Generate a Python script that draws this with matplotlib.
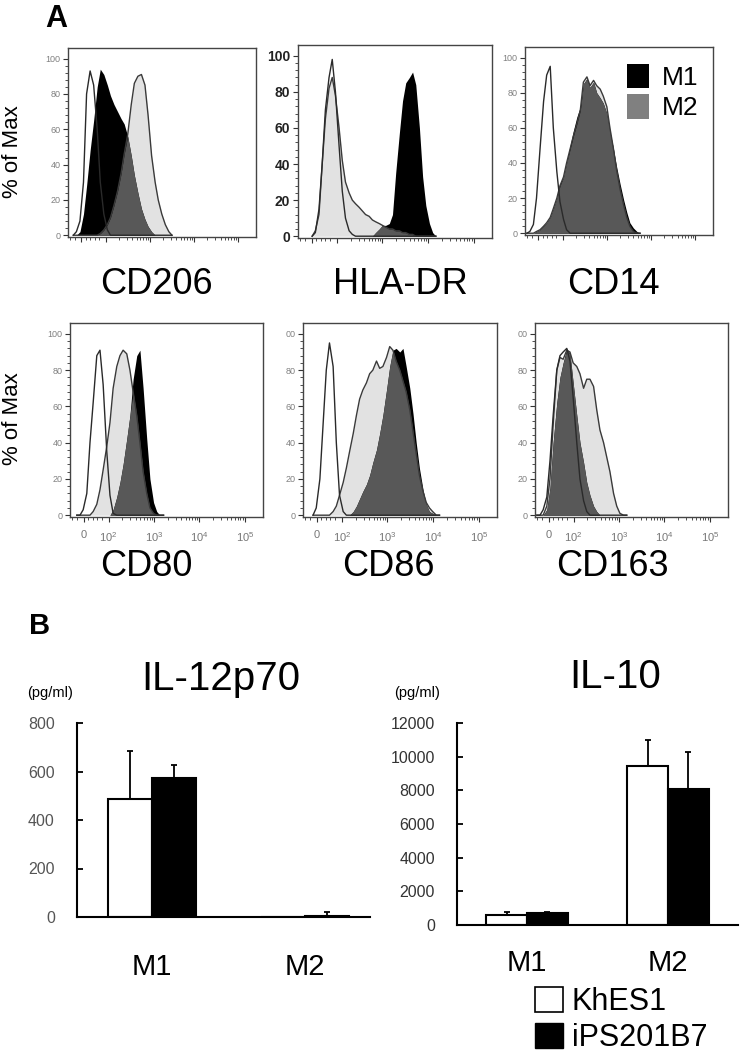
import numpy as np
import matplotlib
matplotlib.use('Agg')
import matplotlib.pyplot as plt
from matplotlib.patches import Patch

plt.rcParams['font.family'] = ['Liberation Sans', 'DejaVu Sans']
plt.rcParams['mathtext.default'] = 'regular'

W, H = 747, 1056

#===========================================
# flow histograms: x in log10 display units, y in % of max
#===========================================
cd206_x = [1.27, 1.34, 1.42, 1.50, 1.57, 1.65, 1.73, 1.81, 1.88, 1.96, 2.04, 2.11, 2.19, 2.27, 2.35,
           2.42, 2.50, 2.58, 2.65, 2.73, 2.81, 2.89, 2.96, 3.04, 3.12, 3.19, 3.27, 3.35, 3.43, 3.50]
cd206_iso = [0, 2, 8, 30, 80, 93, 85, 60, 30, 12, 3, 0, 0, 0, 0,
             0, 0, 0, 0, 0, 0, 0, 0, 0, 0, 0, 0, 0, 0, 0]
cd206_m1 = [0, 0, 2, 12, 28, 48, 65, 84, 94, 91, 85, 79, 74, 70, 66,
            63, 56, 45, 34, 24, 15, 9, 5, 2, 0, 0, 0, 0, 0, 0]
cd206_m2 = [0, 0, 0, 0, 0, 0, 0, 0, 1, 3, 6, 10, 17, 25, 35,
            46, 57, 74, 86, 90, 91, 85, 68, 45, 30, 20, 12, 6, 2, 0]

hladr_x = [1.46, 1.53, 1.61, 1.68, 1.75, 1.83, 1.90, 1.97, 2.05, 2.12, 2.19, 2.27, 2.34, 2.41, 2.49,
           2.56, 2.63, 2.71, 2.78, 2.85, 2.93, 3.00, 3.07, 3.15, 3.22, 3.29, 3.37, 3.44, 3.51, 3.59,
           3.66, 3.73, 3.81, 3.88, 3.95, 4.03, 4.10, 4.17]
hladr_iso = [0, 2, 15, 40, 70, 88, 98, 80, 50, 25, 10, 3, 1, 0, 0,
             0, 0, 0, 0, 0, 0, 0, 0, 0, 0, 0, 0, 0, 0, 0,
             0, 0, 0, 0, 0, 0, 0, 0]
hladr_m1 = [0, 0, 0, 0, 0, 0, 0, 0, 0, 0, 0, 0, 0, 0, 0,
            0, 0, 0, 0, 2, 4, 6, 6, 7, 12, 35, 57, 75, 85, 88,
            91, 84, 60, 33, 17, 7, 2, 0]
hladr_m2 = [0, 3, 12, 40, 65, 82, 88, 78, 60, 42, 30, 24, 20, 18, 16,
            14, 12, 11, 9, 8, 7, 6, 5, 4, 4, 3, 3, 2, 2, 1,
            1, 0, 0, 0, 0, 0, 0, 0]

cd14_x = [1.19, 1.26, 1.34, 1.41, 1.49, 1.57, 1.64, 1.72, 1.79, 1.87, 1.94, 2.02, 2.09, 2.17, 2.24,
          2.32, 2.40, 2.47, 2.55, 2.62, 2.70, 2.77, 2.85, 2.92, 3.00, 3.07, 3.15, 3.22, 3.30, 3.38,
          3.45, 3.52, 3.60, 3.68, 3.75]
cd14_iso = [0, 1, 5, 20, 48, 75, 90, 95, 60, 35, 18, 8, 2, 0, 0,
            0, 0, 0, 0, 0, 0, 0, 0, 0, 0, 0, 0, 0, 0, 0,
            0, 0, 0, 0, 0]
cd14_m1 = [0, 0, 0, 1, 2, 4, 6, 9, 14, 20, 28, 32, 40, 50, 58,
           66, 72, 85, 88, 83, 86, 80, 77, 74, 68, 58, 48, 38, 28, 19,
           12, 6, 3, 1, 0]
cd14_m2 = [0, 0, 0, 1, 2, 4, 6, 9, 14, 20, 27, 32, 40, 48, 55,
           62, 70, 86, 89, 84, 87, 84, 82, 78, 72, 60, 48, 36, 25, 16,
           9, 4, 1, 0, 0]

cd80_x = [1.30, 1.37, 1.44, 1.52, 1.59, 1.66, 1.74, 1.81, 1.88, 1.96, 2.03, 2.10, 2.18, 2.25, 2.32,
          2.40, 2.47, 2.54, 2.62, 2.69, 2.76, 2.84, 2.91, 2.99, 3.06, 3.13, 3.21]
cd80_iso = [0, 0, 3, 12, 40, 62, 88, 91, 72, 35, 11, 1, 0, 0, 0,
            0, 0, 0, 0, 0, 0, 0, 0, 0, 0, 0, 0]
cd80_m1 = [0, 0, 0, 0, 0, 0, 0, 0, 0, 0, 0, 3, 10, 18, 28,
           42, 55, 75, 88, 91, 70, 42, 20, 7, 2, 0, 0]
cd80_m2 = [0, 0, 0, 0, 0, 2, 6, 14, 25, 38, 51, 70, 82, 88, 91,
           89, 80, 68, 55, 40, 24, 12, 4, 1, 0, 0, 0]

cd86_x = [1.37, 1.44, 1.52, 1.59, 1.66, 1.73, 1.81, 1.88, 1.95, 2.03, 2.10, 2.17, 2.25, 2.32, 2.39,
          2.46, 2.54, 2.61, 2.68, 2.76, 2.83, 2.90, 2.98, 3.05, 3.12, 3.19, 3.27, 3.34, 3.41, 3.49,
          3.56, 3.63, 3.70, 3.78, 3.85, 3.92, 3.99, 4.07, 4.14]
cd86_iso = [0, 4, 20, 50, 80, 95, 82, 40, 11, 2, 0, 0, 0, 0, 0,
            0, 0, 0, 0, 0, 0, 0, 0, 0, 0, 0, 0, 0, 0, 0,
            0, 0, 0, 0, 0, 0, 0, 0, 0]
cd86_m1 = [0, 0, 0, 0, 0, 0, 0, 0, 0, 0, 0, 0, 2, 5, 9,
           13, 17, 22, 29, 36, 45, 55, 69, 82, 91, 92, 90, 92, 82, 70,
           56, 40, 26, 14, 6, 2, 1, 0, 0]
cd86_m2 = [0, 0, 0, 0, 0, 0, 2, 5, 11, 18, 26, 35, 45, 55, 64,
           69, 73, 78, 80, 85, 81, 82, 87, 93, 91, 85, 80, 74, 68, 58,
           46, 34, 22, 13, 7, 4, 2, 0, 0]

cd163_x = [1.19, 1.26, 1.33, 1.41, 1.48, 1.55, 1.63, 1.70, 1.77, 1.85, 1.92, 1.99, 2.07, 2.14, 2.22,
           2.29, 2.36, 2.44, 2.51, 2.58, 2.66, 2.73, 2.80, 2.88, 2.95, 3.02, 3.10, 3.17]
cd163_iso = [0, 0, 3, 10, 30, 55, 80, 88, 90, 92, 85, 65, 40, 20, 8,
             2, 0, 0, 0, 0, 0, 0, 0, 0, 0, 0, 0, 0]
cd163_m1 = [0, 0, 0, 3, 15, 40, 62, 76, 84, 92, 89, 73, 55, 40, 29,
            18, 11, 5, 2, 0, 0, 0, 0, 0, 0, 0, 0, 0]
cd163_m2 = [0, 0, 0, 5, 20, 50, 80, 87, 86, 91, 90, 84, 82, 78, 70,
            75, 75, 71, 58, 47, 40, 32, 24, 12, 5, 1, 0, 0]

flow_xticks = [1.45, 2, 3, 4, 5]
flow_xticklabels = ['0', '$10^2$', '$10^3$', '$10^4$', '$10^5$']

#===========================================
# cytokine bars (pg/ml)
#===========================================
groups = ['M1', 'M2']
il12_khes = [485, 1]
il12_khes_err = [200, 1]
il12_ips = [575, 6]
il12_ips_err = [53, 14]
il10_khes = [600, 9450]
il10_khes_err = [150, 1550]
il10_ips = [720, 8100]
il10_ips_err = [60, 2150]

LIGHT = '#e2e2e2'
DARK = '#585858'


def add_ax(fig, x0, y0, x1, y1):
    # box given in pixels from the top left corner
    return fig.add_axes([x0 / W, 1 - y1 / H, (x1 - x0) / W, (y1 - y0) / H])


def draw_hist(ax, x, iso, m1, m2, ylabels, xlabels, tick_color, tick_size, tick_weight='normal'):
    x = np.array(x)
    m1 = np.array(m1)
    m2 = np.array(m2)
    ax.fill_between(x, m2, color=LIGHT, lw=0)
    ax.plot(x, m2, color='#3a3a3a', lw=1.0)
    ax.plot(x, iso, color='#2a2a2a', lw=1.0)
    ax.fill_between(x, m1, color='black', lw=0)
    ax.fill_between(x, np.minimum(m1, m2), color=DARK, lw=0)
    ax.set_xlim(1.15, 5.4)
    ax.set_ylim(-1, 106)
    ax.set_yticks([0, 20, 40, 60, 80, 100])
    ax.set_yticklabels(ylabels, color=tick_color, fontsize=tick_size, fontweight=tick_weight)
    ax.set_yticks([v for v in range(0, 101, 4) if v % 20], minor=True)
    minor_x = [1.2, 1.3, 1.55, 1.65, 1.75, 1.85]
    for d in [2, 3, 4]:
        minor_x += [d + np.log10(k) for k in range(2, 10)]
    ax.set_xticks(flow_xticks)
    ax.set_xticks(minor_x, minor=True)
    ax.set_xticklabels(xlabels, color='#777777', fontsize=8)
    ax.tick_params(which='major', direction='out', length=3.5, width=0.8, color='#333333', pad=2)
    ax.tick_params(which='minor', direction='out', length=2, width=0.6, color='#333333')
    ax.tick_params(axis='x', pad=6)
    for s in ax.spines.values():
        s.set_color('#444444')
        s.set_linewidth(1.0)


fig = plt.figure(figsize=(W / 100, H / 100), dpi=100)

std_y = ['0', '20', '40', '60', '80', '100']
cut_y = ['0', '20', '40', '60', '80', '00']
no_x = [''] * 5

ax = add_ax(fig, 68, 48, 256, 237)
draw_hist(ax, cd206_x, cd206_iso, cd206_m1, cd206_m2, std_y, no_x, '#808080', 6.5)
ax = add_ax(fig, 298, 45, 492, 238)
draw_hist(ax, hladr_x, hladr_iso, hladr_m1, hladr_m2, std_y, no_x, '#222222', 10, 'bold')
ax = add_ax(fig, 525, 47, 713, 235)
draw_hist(ax, cd14_x, cd14_iso, cd14_m1, cd14_m2, std_y, no_x, '#808080', 6.5)
ax.legend(handles=[Patch(facecolor='black'), Patch(facecolor='#808080')], labels=['M1', 'M2'],
          loc='upper left', bbox_to_anchor=(0.54, 0.91), frameon=False, fontsize=19,
          handlelength=0.85, handleheight=1.05, handletextpad=0.5, labelspacing=0.15,
          borderpad=0, borderaxespad=0)

ax = add_ax(fig, 70, 323, 263, 517)
draw_hist(ax, cd80_x, cd80_iso, cd80_m1, cd80_m2, std_y, flow_xticklabels, '#808080', 6.5)
ax = add_ax(fig, 303, 323, 497, 517)
draw_hist(ax, cd86_x, cd86_iso, cd86_m1, cd86_m2, cut_y, flow_xticklabels, '#808080', 6.5)
ax = add_ax(fig, 535, 323, 728, 517)
draw_hist(ax, cd163_x, cd163_iso, cd163_m1, cd163_m2, cut_y, flow_xticklabels, '#808080', 6.5)

# marker names under the histograms
for name, cx, cy in [('CD206', 156, 284), ('HLA-DR', 400, 284), ('CD14', 613, 284),
                     ('CD80', 146, 566), ('CD86', 388, 566), ('CD163', 612, 566)]:
    fig.text(cx / W, 1 - cy / H, name, ha='center', va='center', fontsize=26)
for cy in [152, 419]:
    fig.text(13 / W, 1 - cy / H, '% of Max', rotation=90, ha='center', va='center', fontsize=16)

fig.text(56 / W, 1 - 19 / H, 'A', ha='center', va='center', fontsize=22, fontweight='bold')
fig.text(40 / W, 1 - 626 / H, 'B', ha='center', va='center', fontsize=21, fontweight='bold')

#===========================================
# bar charts
#===========================================
def draw_bars(ax, khes, khes_err, ips, ips_err, ymax, yticks, tick_color, xpad):
    xpos = np.arange(len(groups))
    w = 0.29
    ekw = dict(ecolor='black', elinewidth=1.3, capsize=2.5, capthick=1.3)
    ax.bar(xpos - w / 2, khes, w, color='white', edgecolor='black', lw=1.5,
           yerr=[np.zeros(len(khes)), khes_err], error_kw=ekw)
    ax.bar(xpos + w / 2, ips, w, color='black', edgecolor='black', lw=1.5,
           yerr=[np.zeros(len(ips)), ips_err], error_kw=ekw)
    ax.set_ylim(0, ymax)
    ax.set_yticks(yticks)
    ax.set_yticklabels([str(v) for v in yticks], color=tick_color, fontsize=11.5)
    ax.set_xticks(xpos)
    ax.set_xticklabels(groups, fontsize=21)
    ax.tick_params(axis='y', direction='in', length=4, width=1.3, pad=16)
    ax.tick_params(axis='x', length=0, pad=xpad)
    ax.spines['top'].set_visible(False)
    ax.spines['right'].set_visible(False)
    ax.spines['left'].set_linewidth(1.5)
    ax.spines['bottom'].set_linewidth(1.5)


ax = add_ax(fig, 77, 723, 370, 917)
draw_bars(ax, il12_khes, il12_khes_err, il12_ips, il12_ips_err, 800, [0, 200, 400, 600, 800], '#555555', 26)
ax.set_xlim(-0.49, 1.425)
ax = add_ax(fig, 457, 723, 738, 925)
draw_bars(ax, il10_khes, il10_khes_err, il10_ips, il10_ips_err, 12000,
          [0, 2000, 4000, 6000, 8000, 10000, 12000], '#333333', 17)
ax.set_xlim(-0.496, 1.496)

fig.text(221 / W, 1 - 679 / H, 'IL-12p70', ha='center', va='center', fontsize=29)
fig.text(615 / W, 1 - 677 / H, 'IL-10', ha='center', va='center', fontsize=29)
fig.text(50 / W, 1 - 693 / H, '(pg/ml)', ha='center', va='center', fontsize=10.5)
fig.text(417 / W, 1 - 693 / H, '(pg/ml)', ha='center', va='center', fontsize=10.5)

fig.legend(handles=[Patch(facecolor='white', edgecolor='black', lw=1.2),
                    Patch(facecolor='black', edgecolor='black')],
           labels=['KhES1', 'iPS201B7'], loc='upper left', bbox_to_anchor=(535 / W, 1 - 987 / H),
           frameon=False, fontsize=22, handlelength=0.9, handleheight=0.85, handletextpad=0.3,
           labelspacing=0.2, borderpad=0, borderaxespad=0)

fig.savefig('out.png', dpi=100)
